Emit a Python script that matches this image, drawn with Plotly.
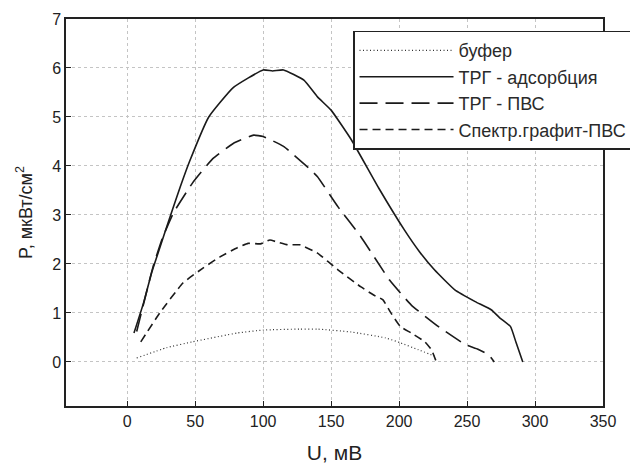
import plotly.graph_objects as go

# ТРГ - адсорбция
u_ads = [5, 12, 18, 24, 32, 39, 46, 60, 78, 100, 107, 115, 130, 140, 150, 165, 185, 204, 215, 226, 241, 256, 268, 274, 282, 286, 291]
p_ads = [0.59, 1.2, 1.82, 2.33, 3.0, 3.57, 4.1, 5.0, 5.6, 5.96, 5.94, 5.96, 5.75, 5.41, 5.14, 4.53, 3.55, 2.69, 2.25, 1.88, 1.47, 1.23, 1.06, 0.9, 0.72, 0.4, 0.0]

# ТРГ - ПВС
u_pvs = [7, 19, 26, 34, 48, 63, 78, 93, 100, 115, 135, 140, 155, 172, 193, 209, 229, 249, 258, 266, 270]
p_pvs = [0.62, 1.94, 2.53, 3.04, 3.65, 4.15, 4.46, 4.63, 4.6, 4.4, 3.92, 3.78, 3.17, 2.55, 1.67, 1.16, 0.72, 0.35, 0.26, 0.14, 0.0]

# Спектр.графит-ПВС
u_spg = [10, 24, 41, 56, 68, 81, 89, 98, 105, 110, 118, 127, 140, 155, 172, 181, 188, 194, 201, 209, 219, 224, 227]
p_spg = [0.41, 1.0, 1.61, 1.92, 2.14, 2.33, 2.42, 2.41, 2.49, 2.45, 2.39, 2.39, 2.22, 1.88, 1.53, 1.37, 1.27, 1.0, 0.72, 0.59, 0.41, 0.24, 0.03]

# буфер
u_buf = [7, 29, 48, 81, 100, 127, 140, 165, 190, 201, 214, 226]
p_buf = [0.08, 0.29, 0.41, 0.59, 0.65, 0.67, 0.67, 0.61, 0.49, 0.39, 0.25, 0.12]

names = ["буфер", "ТРГ - адсорбция", "ТРГ - ПВС", "Спектр.графит-ПВС"]
x_ticks = [0, 50, 100, 150, 200, 250, 300, 350]
y_ticks = [0, 1, 2, 3, 4, 5, 6, 7]

ink = "#222"
fig = go.Figure()
fig.add_trace(go.Scatter(x=u_buf, y=p_buf, name=names[0], mode="lines",
                         line=dict(color="#333", width=1.2, dash="1px,2.5px", shape="spline", smoothing=0.4)))
fig.add_trace(go.Scatter(x=u_ads, y=p_ads, name=names[1], mode="lines",
                         line=dict(color="#1a1a1a", width=1.6, shape="spline", smoothing=0.4)))
fig.add_trace(go.Scatter(x=u_pvs, y=p_pvs, name=names[2], mode="lines",
                         line=dict(color="#1a1a1a", width=1.6, dash="18px,8px", shape="spline", smoothing=0.4)))
fig.add_trace(go.Scatter(x=u_spg, y=p_spg, name=names[3], mode="lines",
                         line=dict(color="#1a1a1a", width=1.6, dash="8px,5px", shape="spline", smoothing=0.4)))

axis_common = dict(showline=True, linecolor=ink, linewidth=1.5, mirror=True,
                   ticks="inside", ticklen=5, tickcolor=ink,
                   showgrid=True, gridcolor="#c4c4c4", griddash="dot", gridwidth=1,
                   zeroline=False, tickfont=dict(size=16, color=ink), automargin=False)

fig.update_xaxes(range=[-45, 350], tickvals=x_ticks,
                 title=dict(text="U, мВ", font=dict(size=21, color=ink), standoff=19),
                 **axis_common)
fig.update_yaxes(range=[-0.9, 7], tickvals=y_ticks,
                 title=dict(text="P, мкВт/см<sup>2</sup>", font=dict(size=18, color=ink), standoff=15),
                 **axis_common)

# The page body has an 8px margin, so the figure is 8px smaller than the window.
fig.update_layout(
    width=630, height=456,
    margin=dict(l=58, r=35, t=11, b=58, autoexpand=False),
    plot_bgcolor="white", paper_bgcolor="white",
    font=dict(family="Liberation Sans, Arial, sans-serif", color=ink),
    legend=dict(x=0.5345, y=0.97, xanchor="left", yanchor="top",
                bgcolor="white", bordercolor=ink, borderwidth=1.5,
                font=dict(size=18, color="#2a2a2a"), itemwidth=94,
                tracegroupgap=0),
    showlegend=True,
)

fig.write_html("out.html")
